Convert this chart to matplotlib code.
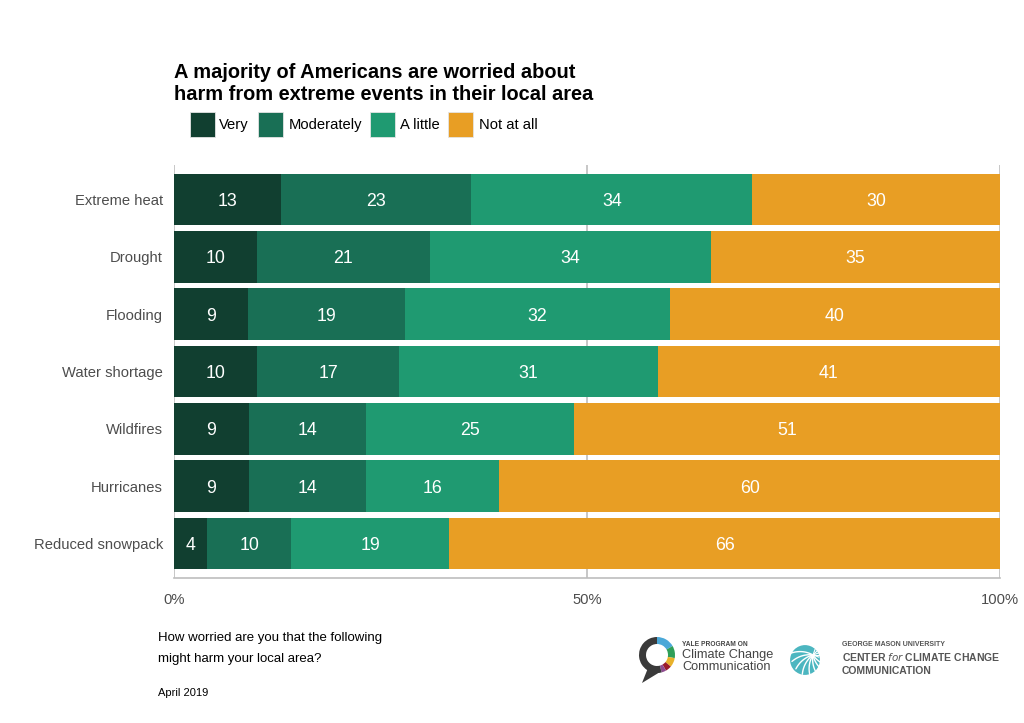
import numpy as np
import matplotlib
matplotlib.use("Agg")
import matplotlib.pyplot as plt
from matplotlib import font_manager
from matplotlib.patches import Wedge, Circle, Polygon, Rectangle

plt.rcParams['font.family'] = ['Liberation Sans', 'DejaVu Sans']

categories = ["Extreme heat", "Drought", "Flooding", "Water shortage",
              "Wildfires", "Hurricanes", "Reduced snowpack"]
very = [13, 10, 9, 10, 9, 9, 4]
moderately = [23, 21, 19, 17, 14, 14, 10]
a_little = [34, 34, 32, 31, 25, 16, 19]
not_at_all = [30, 35, 40, 41, 51, 60, 66]
series_names = ["Very", "Moderately", "A little", "Not at all"]
colors = ["#113f30", "#196f55", "#1f9a71", "#e89e24"]
xticks = [0, 50, 100]
xticklabels = ["0%", "50%", "100%"]

title = "A majority of Americans are worried about\nharm from extreme events in their local area"
caption = "How worried are you that the following\nmight harm your local area?"
date = "April 2019"

W, H = 1024, 723
fig = plt.figure(figsize=(W / 100, H / 100), dpi=100)
ax = fig.add_axes([174 / W, 1 - 578 / H, (1000 - 174) / W, (578 - 165) / H])

data = np.array([very, moderately, a_little, not_at_all], dtype=float)
totals = data.sum(axis=0)
pct = data / totals * 100
y = np.arange(len(categories))

left = np.zeros(len(categories))
for i, name in enumerate(series_names):
    ax.barh(y, pct[i], left=left, height=0.9, color=colors[i],
            edgecolor="none", zorder=3, label=name)
    for j in range(len(categories)):
        ax.text(left[j] + pct[i][j] / 2, y[j], f"{int(data[i][j])}",
                ha="center", va="center_baseline", color="white", fontsize=12.8, zorder=4)
    left += pct[i]

ax.set_ylim(len(categories) - 0.4, -0.6)
ax.set_xlim(0, 100)
ax.set_yticks(y)
ax.set_yticklabels(categories, fontsize=10.6, color="#4d4d4d")
ax.set_xticks(xticks)
ax.set_xticklabels(xticklabels, fontsize=10.6, color="#4d4d4d")
ax.tick_params(axis="both", length=0)
ax.tick_params(axis="y", pad=8)
ax.tick_params(axis="x", pad=11)
for s in ["top", "left", "right"]:
    ax.spines[s].set_visible(False)
ax.spines["bottom"].set_color("#bdbdbd")
ax.spines["bottom"].set_linewidth(1.2)
ax.xaxis.grid(True, color="#bdbdbd", linewidth=1.2, zorder=0)
ax.yaxis.grid(False)
ax.set_axisbelow(True)

fig.text(174 / W, 1 - 63 / H, title, fontsize=14.4, fontweight="bold",
         va="top", ha="left", color="black", linespacing=1.2)

# legend (manual layout)
leg_sq_x = [190, 258, 370, 448]
leg_txt_x = [219, 289, 400, 479]
for i, name in enumerate(series_names):
    fig.patches.append(Rectangle((leg_sq_x[i] / W, 1 - 137 / H), 25 / W, 25 / H,
                                 transform=fig.transFigure, facecolor=colors[i],
                                 edgecolor="#e4e4e4", linewidth=0.6))
    fig.text(leg_txt_x[i] / W, 1 - 129 / H, name, fontsize=10.6, va="baseline",
             ha="left", color="black")

fig.text(158 / W, 1 - 632 / H, caption, fontsize=9.5, va="top", ha="left",
         color="black", linespacing=2.0)
fig.text(158 / W, 1 - 688 / H, date, fontsize=8, va="top", ha="left", color="black")

# Yale logo
lax = fig.add_axes([627 / W, 1 - 687 / H, 60 / W, 60 / H])
lax.set_xlim(0, 60); lax.set_ylim(0, 60); lax.set_aspect("equal"); lax.axis("off")
cx, cy, R, w = 30, 32, 18, 7
for t2, t1, c in [(30, 90, "#4aa8d8"), (-10, 30, "#2f9e58"), (-40, -10, "#e8b12a"),
                  (-60, -40, "#9b1b2a"), (-75, -60, "#8e4a8e"), (90, 285, "#3a3a3a")]:
    lax.add_patch(Wedge((cx, cy), R, t2, t1, width=w, color=c, lw=0))
lax.add_patch(Polygon([[cx - 9, cy - 13], [cx - 15, cy - 28], [cx + 3, cy - 17]],
                      closed=True, color="#3a3a3a", lw=0))
fig.text(682 / W, 1 - 644 / H, "YALE PROGRAM ON", fontsize=4.8, fontweight="bold",
         color="#444444", va="center", ha="left")
fig.text(682 / W, 1 - 661 / H, "Climate Change\nCommunication", fontsize=9.2,
         color="#444444", va="center", ha="left", linespacing=0.95)

# GMU logo
gax = fig.add_axes([780 / W, 1 - 685 / H, 50 / W, 50 / H])
gax.set_xlim(0, 50); gax.set_ylim(0, 50); gax.set_aspect("equal"); gax.axis("off")
gcx, gcy = 25, 25
gax.add_patch(Circle((gcx, gcy), 15.5, color="#4cb6c0", lw=0))
px, py = gcx + 8, gcy + 5
for ang in [150, 172, 194, 216, 238, 260, 282, 304]:
    a = np.deg2rad(ang)
    t = np.linspace(0, 1, 20)
    r = 22 * t
    bend = np.deg2rad(25) * t
    gax.plot(px + r * np.cos(a + bend), py + r * np.sin(a + bend),
             color="white", lw=1.0, solid_capstyle="round")
gax.add_patch(Circle((gcx, gcy), 17, facecolor="none", edgecolor="white", lw=3))
for ang in [20, 45, 70, 340, 0]:
    a = np.deg2rad(ang)
    gax.plot([px, px + 6 * np.cos(a)], [py, py + 6 * np.sin(a)], color="white", lw=0.8)

names = {f.name for f in font_manager.fontManager.ttflist}
if "Liberation Sans Narrow" in names:
    gfam, gsize = ["Liberation Sans Narrow", "DejaVu Sans"], 9.0
else:
    gfam, gsize = ["Liberation Sans", "DejaVu Sans"], 7.5
fig.text(842 / W, 1 - 644 / H, "GEORGE MASON UNIVERSITY", fontsize=5.0, fontweight="bold",
         color="#555555", va="center", ha="left")
fig.text(842 / W, 1 - 657 / H, "CENTER $\\mathit{for}$ CLIMATE CHANGE", fontsize=gsize,
         fontweight="bold", color="#555555", va="center", ha="left", family=gfam)
fig.text(842 / W, 1 - 671 / H, "COMMUNICATION", fontsize=gsize, fontweight="bold",
         color="#555555", va="center", ha="left", family=gfam)

fig.savefig("out.png", dpi=100, facecolor="white")
